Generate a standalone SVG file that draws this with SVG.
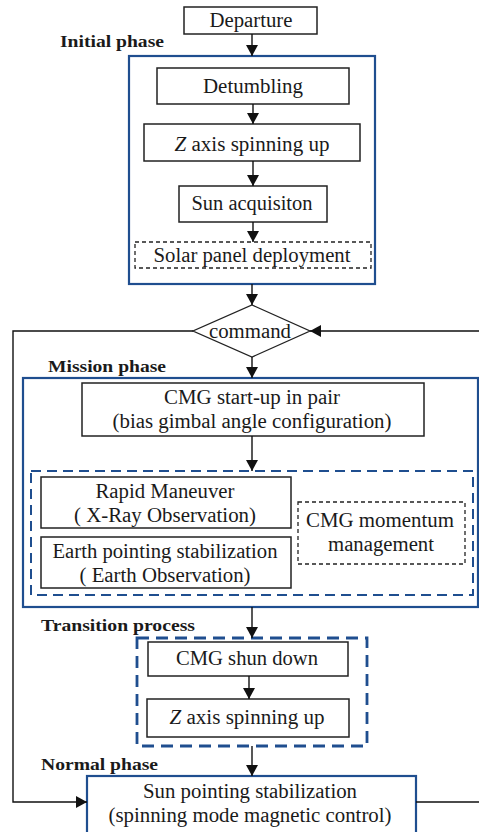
<svg xmlns="http://www.w3.org/2000/svg" width="479" height="832" viewBox="0 0 479 832">
<style>
.t{font-family:"Liberation Serif","Times New Roman",serif;font-size:20px;fill:#1a1a1a;text-anchor:middle}
.lb{font-family:"Liberation Serif","Times New Roman",serif;font-size:17px;font-weight:bold;fill:#1a1a1a}
.bx{fill:#fff;stroke:#222;stroke-width:1.5}
.dbx{fill:#fff;stroke:#222;stroke-width:1.3;stroke-dasharray:4,3}
.blue{fill:none;stroke:#1f4e8f;stroke-width:2.2}
.bdash{fill:none;stroke:#1f4e8f;stroke-width:2;stroke-dasharray:10,6}
.bdash2{fill:none;stroke:#1f4e8f;stroke-width:2.8;stroke-dasharray:12,7}
.c{fill:none;stroke:#111;stroke-width:1.4}
</style>
<defs>
<marker id="ar" markerUnits="userSpaceOnUse" markerWidth="12" markerHeight="12" refX="11" refY="6" orient="auto">
<path d="M0,0 L11,6 L0,12 z" fill="#111"/>
</marker>
</defs>
<rect width="479" height="832" fill="#fff"/>

<g id="labels">
<text class="lb" x="60" y="47" textLength="104" lengthAdjust="spacingAndGlyphs">Initial phase</text>
<text class="lb" x="48" y="372" textLength="118" lengthAdjust="spacingAndGlyphs">Mission phase</text>
<text class="lb" x="41" y="631" textLength="154" lengthAdjust="spacingAndGlyphs">Transition process</text>
<text class="lb" x="41" y="770" textLength="117" lengthAdjust="spacingAndGlyphs">Normal phase</text>
</g>

<g id="initial-phase"><rect class="blue" x="129" y="56" width="246" height="228"/></g>
<g id="mission-phase"><rect class="blue" x="23" y="378" width="455" height="229"/></g>
<g id="mission-inner"><rect class="bdash" x="31" y="471" width="442" height="124"/></g>
<g id="transition-process"><rect class="bdash2" x="137" y="638" width="230" height="108"/></g>

<g id="departure"><rect class="bx" x="184" y="7" width="133" height="27"/><text class="t" x="251" y="27" textLength="83" lengthAdjust="spacingAndGlyphs">Departure</text></g>
<g id="detumbling"><rect class="bx" x="157" y="68" width="192" height="36"/><text class="t" x="253" y="93" textLength="100" lengthAdjust="spacingAndGlyphs">Detumbling</text></g>
<g id="zaxis1"><rect class="bx" x="144" y="124" width="216" height="37"/><text class="t" x="252" y="151" textLength="155" lengthAdjust="spacingAndGlyphs"><tspan font-style="italic">Z</tspan> axis spinning up</text></g>
<g id="sun-acq"><rect class="bx" x="179" y="186" width="148" height="36"/><text class="t" x="252" y="210" textLength="121" lengthAdjust="spacingAndGlyphs">Sun acquisiton</text></g>
<g id="solar-panel"><rect class="dbx" x="135" y="242" width="236" height="26"/><text class="t" x="252" y="262" textLength="197" lengthAdjust="spacingAndGlyphs">Solar panel deployment</text></g>

<g id="command"><polygon points="252,305 310,331 252,357 193,331" fill="#fff" stroke="#222" stroke-width="1.3"/><text class="t" x="250" y="338" textLength="82" lengthAdjust="spacingAndGlyphs">command</text></g>

<g id="cmg-startup"><rect class="bx" x="82" y="383" width="342" height="53"/><text class="t" x="252" y="404" textLength="176" lengthAdjust="spacingAndGlyphs">CMG start-up in pair</text><text class="t" x="252" y="428" textLength="279" lengthAdjust="spacingAndGlyphs">(bias gimbal angle configuration)</text></g>
<g id="rapid"><rect class="bx" x="41" y="477" width="250" height="51"/><text class="t" x="165" y="498" textLength="139" lengthAdjust="spacingAndGlyphs">Rapid Maneuver</text><text class="t" x="165" y="522" textLength="182" lengthAdjust="spacingAndGlyphs">( X-Ray Observation)</text></g>
<g id="earth"><rect class="bx" x="41" y="537" width="250" height="51"/><text class="t" x="165" y="558" textLength="225" lengthAdjust="spacingAndGlyphs">Earth pointing stabilization</text><text class="t" x="165" y="582" textLength="171" lengthAdjust="spacingAndGlyphs">( Earth Observation)</text></g>
<g id="cmg-momentum"><rect class="dbx" x="298" y="502" width="167" height="62"/><text class="t" x="380" y="527" textLength="148" lengthAdjust="spacingAndGlyphs">CMG momentum</text><text class="t" x="381" y="551" textLength="106" lengthAdjust="spacingAndGlyphs">management</text></g>

<g id="cmg-shun"><rect class="bx" x="148" y="642" width="200" height="34"/><text class="t" x="247" y="665" textLength="142" lengthAdjust="spacingAndGlyphs">CMG shun down</text></g>
<g id="zaxis2"><rect class="bx" x="147" y="699" width="202" height="38"/><text class="t" x="247" y="724" textLength="155" lengthAdjust="spacingAndGlyphs"><tspan font-style="italic">Z</tspan> axis spinning up</text></g>

<g id="sun-pointing"><rect fill="#fff" stroke="#1f4e8f" stroke-width="2.2" x="87" y="776" width="329" height="60"/><text class="t" x="250" y="798" textLength="214" lengthAdjust="spacingAndGlyphs">Sun pointing stabilization</text><text class="t" x="250" y="822" textLength="283" lengthAdjust="spacingAndGlyphs">(spinning mode magnetic control)</text></g>

<g id="connectors">
<line class="c" x1="252" y1="34" x2="252" y2="56" marker-end="url(#ar)"/>
<line class="c" x1="253" y1="104" x2="253" y2="124" marker-end="url(#ar)"/>
<line class="c" x1="253" y1="161" x2="253" y2="186" marker-end="url(#ar)"/>
<line class="c" x1="253" y1="222" x2="253" y2="242" marker-end="url(#ar)"/>
<line class="c" x1="252" y1="284" x2="252" y2="305" marker-end="url(#ar)"/>
<line class="c" x1="252" y1="357" x2="252" y2="378" marker-end="url(#ar)"/>
<line class="c" x1="252" y1="436" x2="252" y2="471" marker-end="url(#ar)"/>
<line class="c" x1="252" y1="607" x2="252" y2="638" marker-end="url(#ar)"/>
<line class="c" x1="249" y1="676" x2="249" y2="699" marker-end="url(#ar)"/>
<line class="c" x1="252" y1="746" x2="252" y2="776" marker-end="url(#ar)"/>
<polyline class="c" points="193,331 13,331 13,802 87,802" marker-end="url(#ar)"/>
<polyline class="c" points="416,802 490,802 490,331 310,331" marker-end="url(#ar)"/>
</g>
</svg>
